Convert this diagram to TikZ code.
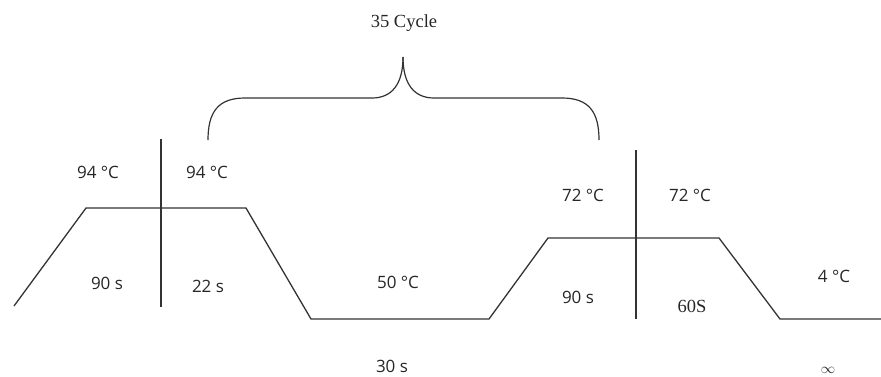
\documentclass[tikz,border=0pt]{standalone}
\usepackage{fontspec}
\setmainfont{Liberation Serif}
\newfontfamily\labfont{Open Sans}
\begin{document}
\begin{tikzpicture}[x=1pt,y=-1pt,
  prof/.style={line width=1.3pt,draw=black!80},
  lab/.style={font=\labfont\fontsize{17}{19}\selectfont,text=black!85,inner sep=0pt},
  slab/.style={font=\fontsize{18.5}{20}\selectfont,text=black!85,inner sep=0pt}]
\useasboundingbox (0,0) rectangle (881,376);
% profile corners
\coordinate (p0) at (14,306);
\coordinate (p1) at (86,208);
\coordinate (p2) at (246,208);
\coordinate (p3) at (311,319);
\coordinate (p4) at (489,319);
\coordinate (p5) at (548,238);
\coordinate (p6) at (719,238);
\coordinate (p7) at (780,319);
\coordinate (p8) at (881,319);
\draw[prof] (p0) -- (p1) -- (p2) -- (p3) -- (p4) -- (p5) -- (p6) -- (p7) -- (p8);
% dividers
\coordinate (v1t) at (161,139);
\coordinate (v1b) at (161,307);
\coordinate (v2t) at (636,150);
\coordinate (v2b) at (636,319);
\draw[prof] (v1t) -- (v1b);
\draw[prof] (v2t) -- (v2b);
% brace
\coordinate (bl) at (208,140);
\coordinate (bt) at (403,57);
\coordinate (br) at (599,140);
\draw[prof,line width=1.2pt] (bl) .. controls (208,112) and (218,98) .. (245,98) -- (372,98)
  .. controls (392,98) and (403,84) .. (bt);
\draw[prof,line width=1.2pt] (bt) .. controls (403,84) and (414,98) .. (434,98) -- (562,98)
  .. controls (589,98) and (599,112) .. (br);
% labels
\node[slab] (cyc) at (404,23) {35 Cycle};
\node[lab] (t1) at (98,172) {94 °C};
\node[lab] (t2) at (207,172) {94 °C};
\node[lab] (d1) at (107,283) {90 s};
\node[lab] (d2) at (208,286) {22 s};
\node[lab] (t3) at (398,282) {50 °C};
\node[lab] (d3) at (392,366) {30 s};
\node[lab] (t4) at (583,195) {72 °C};
\node[lab] (t5) at (690,195) {72 °C};
\node[lab] (d4) at (578,297) {90 s};
\node[slab] (d5) at (692,306) {60S};
\node[lab] (t6) at (834,276) {4 °C};
\node[inner sep=0pt,text=black!85] (d6) at (828,370) {\fontsize{15}{17}\selectfont$\infty$};
\end{tikzpicture}
\end{document}
